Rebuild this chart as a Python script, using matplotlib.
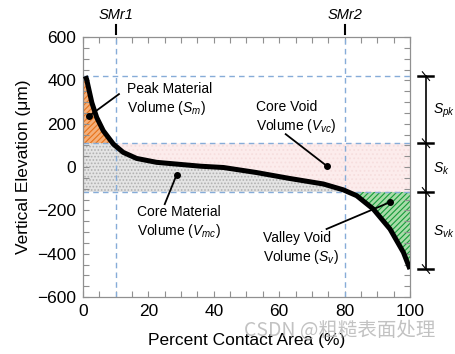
import numpy as np
import matplotlib
matplotlib.use("Agg")
import matplotlib.pyplot as plt
from matplotlib.ticker import MultipleLocator

plt.rcParams['font.family'] = ['Liberation Sans', 'DejaVu Sans']
plt.rcParams['mathtext.fontset'] = 'custom'
plt.rcParams['mathtext.rm'] = 'Liberation Sans'
plt.rcParams['mathtext.it'] = 'Liberation Sans:italic'
plt.rcParams['hatch.linewidth'] = 0.8

# Bearing area (Abbott-Firestone) curve
contact_area = [0.7, 1.1, 2.7, 4.2, 6.2, 9.3, 12.3, 16.4, 22.5, 30, 36, 43,
                53, 63, 73.5, 79.6, 83.7, 88.8, 93.9, 98, 100]
elevation = [420, 406, 298, 229, 168, 106, 68, 40, 22, 12, 4, -2,
             -25, -52, -78, -105, -132, -194, -286, -394, -471]

# Characteristic levels
smr1, smr2 = 10, 80
peak_top, core_top, core_bottom, valley_bottom = 420, 110, -115, -471

x = np.array(contact_area)
y = np.array(elevation)
xf = np.r_[0, x]
yf = np.r_[y[0], y]

fig = plt.figure(figsize=(4.56, 3.54), dpi=100)
ax = fig.add_axes([0.182, 0.161, 0.717, 0.734])

# shaded regions
ax.fill_between(xf, yf, core_top, where=yf >= core_top, interpolate=True,
                facecolor='#f5b07a', edgecolor='#e8731a', hatch='//////', linewidth=0)
ax.fill_between(xf, core_bottom, np.clip(yf, core_bottom, core_top),
                facecolor='#e4e4e4', edgecolor='#b0b0b0', hatch='.....', linewidth=0)
ax.fill_between(xf, np.clip(yf, core_bottom, core_top), core_top,
                facecolor='#fcecec', edgecolor='#f6dede', hatch='....', linewidth=0)
ax.fill_between(xf, yf, core_bottom, where=yf <= core_bottom, interpolate=True,
                facecolor='#a8dca8', edgecolor='#169a3a', hatch='//////', linewidth=0)

# reference dashed lines
dash = dict(color='#86acd8', linestyle=(0, (4, 3)), linewidth=1)
for lvl in [peak_top, core_top, core_bottom]:
    ax.axhline(lvl, **dash)
for v in [smr1, smr2]:
    ax.axvline(v, **dash)

ax.plot(x, y, color='black', linewidth=3.6, solid_capstyle='butt', zorder=5)

ax.set_xlim(0, 100)
ax.set_ylim(-600, 600)
ax.xaxis.set_major_locator(MultipleLocator(20))
ax.xaxis.set_minor_locator(MultipleLocator(5))
ax.yaxis.set_major_locator(MultipleLocator(200))
ax.yaxis.set_minor_locator(MultipleLocator(50))
ax.tick_params(which='both', direction='in', top=True, right=True,
               length=4, color='#909090', width=0.8)
ax.tick_params(labelsize=12.5, pad=5)
for s in ax.spines.values():
    s.set_color('#909090')
    s.set_linewidth(0.9)

ax.set_xlabel('Percent Contact Area (%)', fontsize=12.5, labelpad=10)
ax.set_ylabel('Vertical Elevation (\u03bcm)', fontsize=12.5, labelpad=4)

# SMr labels at the top
for v, lab in [(smr1, 'SMr1'), (smr2, 'SMr2')]:
    ax.text(v, 1.06, lab, transform=ax.get_xaxis_transform(), ha='center', va='bottom',
            fontsize=10.5, style='italic')
    ax.plot([v, v], [1.012, 1.045], transform=ax.get_xaxis_transform(),
            color='black', linewidth=1.5, clip_on=False)

# annotations with dot ends
notes = [
    ('Peak Material\nVolume ($\\it{S_m}$)', (1.8, 235), (11, 337), (13.5, 311)),
    ('Core Void\nVolume ($\\it{V_{vc}}$)', (74.5, 6), (62, 152), (53, 229)),
    ('Core Material\nVolume ($\\it{V_{mc}}$)', (28.6, -37), (25, -171), (16.5, -256)),
    ('Valley Void\nVolume ($\\it{S_v}$)', (93.9, -162), (74.5, -286), (55, -377)),
]
for txt, dot, start, pos in notes:
    ax.plot([start[0], dot[0]], [start[1], dot[1]], color='black', linewidth=1.3, zorder=6)
    ax.plot(dot[0], dot[1], 'o', color='black', markersize=4, zorder=6)
    ax.text(pos[0], pos[1], txt, ha='left', va='center', fontsize=10,
            linespacing=1.25, zorder=7)

# right side height bars
bx = 104.8
levels = [peak_top, core_top, core_bottom, valley_bottom]
ax.plot([bx, bx], [peak_top, valley_bottom], color='black', linewidth=1.2, clip_on=False)
for lvl in levels:
    ax.plot([bx - 2.4, bx + 2.3], [lvl, lvl], color='black', linewidth=1.8, clip_on=False)
    ax.plot([bx - 1.0, bx + 1.2], [lvl + 20, lvl - 20], color='black', linewidth=0.8,
            clip_on=False)
for lab, yy in [('$\\it{S_{pk}}$', 259), ('$\\it{S_k}$', -9), ('$\\it{S_{vk}}$', -300)]:
    ax.text(bx + 2.4, yy, lab, ha='left', va='center', fontsize=10, clip_on=False)

fig.text(0.535, 0.065, 'CSDN @粗糙表面处理', fontsize=14, color='#b8b8b8', alpha=0.85,
         family=['Noto Sans CJK SC', 'DejaVu Sans'], ha='left', va='center')

fig.savefig('out.png', dpi=100)
